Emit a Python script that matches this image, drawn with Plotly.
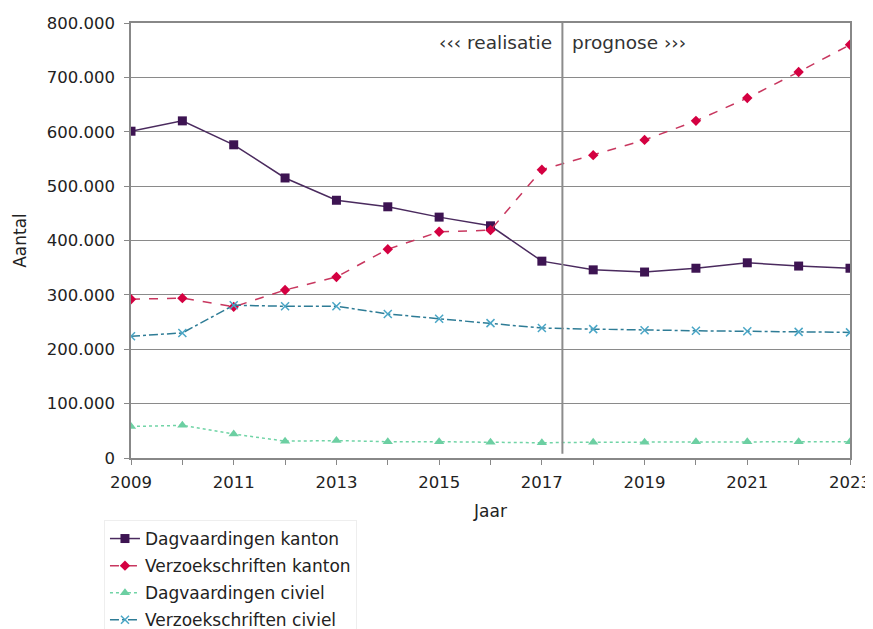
import plotly.graph_objects as go

years = list(range(2009, 2024))
dagv_kanton = [601000, 620000, 576000, 515000, 474000, 462000, 443000, 427000,
               362000, 346000, 342000, 349000, 359000, 353000, 349000]
verz_kanton = [292000, 294000, 278000, 309000, 333000, 384000, 416000, 419000,
               530000, 557000, 585000, 620000, 662000, 710000, 760000]
dagv_civiel = [58000, 60000, 44000, 31000, 32000, 30000, 30000, 29000,
               28000, 29000, 29000, 30000, 30000, 30000, 30000]
verz_civiel = [224000, 230000, 281000, 279000, 279000, 265000, 256000, 248000,
               239000, 237000, 235000, 234000, 233000, 232000, 231000]
split_year = 2017.4
y_ticks = [0, 100000, 200000, 300000, 400000, 500000, 600000, 700000, 800000]

FONT = "DejaVu Sans"
fig = go.Figure()
fig.add_trace(go.Scatter(x=years, y=dagv_kanton, name="Dagvaardingen kanton",
                         mode="lines+markers", legendgroup="a",
                         line=dict(color="#4A2A5E", width=1.5),
                         marker=dict(symbol="square", size=9, color="#3D1452")))
fig.add_trace(go.Scatter(x=years, y=verz_kanton, name="Verzoekschriften kanton",
                         mode="lines+markers", legendgroup="b",
                         line=dict(color="#C8375F", width=1.5, dash="dash"),
                         marker=dict(symbol="diamond", size=8, color="#D40041")))
fig.add_trace(go.Scatter(x=years, y=dagv_civiel, name="Dagvaardingen civiel",
                         mode="lines+markers", legendgroup="c",
                         line=dict(color="#70D4A6", width=1.5, dash="dot"),
                         marker=dict(symbol="triangle-up", size=9, color="#6CCFA2")))
fig.add_trace(go.Scatter(x=years, y=verz_civiel, name="Verzoekschriften civiel",
                         mode="lines+markers", legendgroup="d",
                         line=dict(color="#2E7C96", width=1.5, dash="dashdot"),
                         marker=dict(symbol="x-thin", size=8, color="#4AA6C6",
                                     line=dict(width=1.5, color="#4AA6C6"))))

fig.add_shape(type="line", x0=split_year, x1=split_year, y0=8000, y1=800000,
              xref="x", yref="y", line=dict(color="#8C8C8C", width=2))
fig.add_annotation(x=split_year, y=765000, xref="x", yref="y", text="‹‹‹ realisatie",
                   showarrow=False, xanchor="right", xshift=-8,
                   font=dict(family=FONT, size=18.5, color="#333333"))
fig.add_annotation(x=split_year, y=765000, xref="x", yref="y", text="prognose ›››",
                   showarrow=False, xanchor="left", xshift=8,
                   font=dict(family=FONT, size=18.5, color="#333333"))

fig.update_layout(
    width=873, height=629,
    margin=dict(l=123, r=31, t=15, b=179, autoexpand=False),
    paper_bgcolor="white", plot_bgcolor="white",
    font=dict(family=FONT, size=16.5, color="#222222"),
    separators=",.",
    showlegend=True,
    legend=dict(x=-0.0376, y=-0.1425, xanchor="left", yanchor="top",
                font=dict(family=FONT, size=17, color="#222222"),
                bordercolor="#EEEEEE", borderwidth=1, tracegroupgap=2,
                itemwidth=30),
    xaxis=dict(range=[2009, 2023], tickvals=years,
               ticktext=[str(y) if y % 2 == 1 else "" for y in years],
               ticks="outside", ticklen=5, tickcolor="#888888",
               ticklabelstandoff=3,
               showline=True, linecolor="#888888", linewidth=1.5, mirror=True,
               showgrid=False, zeroline=False, automargin=False,
               title=dict(text="Jaar", font=dict(size=17), standoff=15)),
    yaxis=dict(range=[0, 800000], tickvals=y_ticks, tickformat=",d",
               ticks="outside", ticklen=5, tickcolor="#888888",
               ticklabelstandoff=6,
               showline=True, linecolor="#888888", linewidth=1.5, mirror=True,
               showgrid=True, gridcolor="#8A8A8A", gridwidth=1, zeroline=False,
               automargin=False,
               title=dict(text="Aantal", font=dict(size=17), standoff=16)),
)
fig.write_html("out.html")
